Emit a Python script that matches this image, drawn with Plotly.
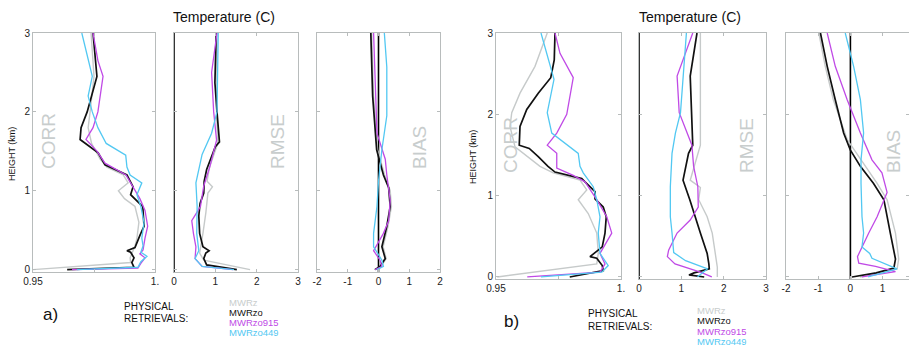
import plotly.graph_objects as go

W, H = 909, 347

# ---------------- DATA (height km, value) ----------------
SERIES = ["MWRz", "MWRzo", "MWRzo915", "MWRzo449"]

# Panel a) CORR
A_CORR_MWRZ_H = [3.0, 2.45, 2.0, 1.8, 1.6, 1.4, 1.3, 1.2, 1.1, 1.0, 0.9, 0.8, 0.6, 0.4, 0.3, 0.15, 0.09, 0.0]
A_CORR_MWRZ_V = [0.9738, 0.9750, 0.9734, 0.9726, 0.9740, 0.9775, 0.9803, 0.9870, 0.9890, 0.9850, 0.9875, 0.9918, 0.9934, 0.9926, 0.9918, 0.9898, 0.9900, 0.9500]
A_CORR_MWRZO_H = [3.0, 2.45, 2.0, 1.8, 1.65, 1.58, 1.48, 1.33, 1.2, 1.05, 0.95, 0.8, 0.55, 0.44, 0.28, 0.24, 0.22, 0.15, 0.09, 0.03, 0.0]
A_CORR_MWRZO_V = [0.9746, 0.9762, 0.9722, 0.9697, 0.9693, 0.9725, 0.9767, 0.9795, 0.9885, 0.9910, 0.9900, 0.9950, 0.9955, 0.9939, 0.9918, 0.9885, 0.9900, 0.9914, 0.9905, 0.9914, 0.9640]
A_CORR_MWRZO915_H = [3.0, 2.65, 2.45, 2.0, 1.8, 1.65, 1.5, 1.35, 1.2, 1.05, 0.9, 0.75, 0.55, 0.4, 0.25, 0.2, 0.15, 0.08, 0.02, 0.0]
A_CORR_MWRZO915_V = [0.9746, 0.9766, 0.9787, 0.9766, 0.9746, 0.9717, 0.9763, 0.9795, 0.9881, 0.9910, 0.9938, 0.9959, 0.9970, 0.9959, 0.9951, 0.9938, 0.9959, 0.9942, 0.9930, 0.9660]
A_CORR_MWRZO449_H = [3.0, 2.45, 2.2, 2.0, 1.8, 1.6, 1.45, 1.3, 1.2, 1.1, 0.95, 0.8, 0.6, 0.4, 0.3, 0.22, 0.17, 0.1, 0.03, 0.0]
A_CORR_MWRZO449_V = [0.9700, 0.9743, 0.9726, 0.9743, 0.9766, 0.9800, 0.9880, 0.9885, 0.9898, 0.9946, 0.9926, 0.9942, 0.9955, 0.9946, 0.9951, 0.9942, 0.9967, 0.9942, 0.9930, 0.9680]

# Panel a) RMSE
A_RMSE_MWRZ_H = [3.0, 2.0, 1.6, 1.3, 1.12, 1.05, 0.97, 0.72, 0.46, 0.21, 0.12, 0.0]
A_RMSE_MWRZ_V = [1.04, 1.03, 1.06, 0.86, 0.80, 0.93, 0.82, 0.77, 0.70, 0.62, 0.72, 1.84]
A_RMSE_MWRZO_H = [3.0, 2.37, 2.0, 1.62, 1.56, 1.44, 1.27, 1.12, 0.97, 0.84, 0.68, 0.46, 0.29, 0.24, 0.21, 0.14, 0.06, 0.0]
A_RMSE_MWRZO_V = [1.02, 0.99, 1.04, 1.10, 1.00, 0.91, 0.79, 0.73, 0.72, 0.63, 0.60, 0.62, 0.70, 0.85, 0.77, 0.72, 0.79, 1.52]
A_RMSE_MWRZO915_H = [3.0, 2.5, 2.0, 1.64, 1.31, 1.06, 0.8, 0.62, 0.46, 0.29, 0.14, 0.04, 0.0]
A_RMSE_MWRZO915_V = [1.04, 0.91, 0.96, 1.03, 0.87, 0.72, 0.64, 0.43, 0.47, 0.53, 0.51, 0.68, 1.43]
A_RMSE_MWRZO449_H = [3.0, 2.37, 2.0, 1.73, 1.46, 1.10, 0.8, 0.46, 0.24, 0.14, 0.04, 0.0]
A_RMSE_MWRZO449_V = [1.07, 1.04, 1.04, 0.91, 0.68, 0.53, 0.56, 0.55, 0.60, 0.51, 0.68, 1.45]

# Panel a) BIAS
A_BIAS_MWRZ_H = [3.0, 2.2, 1.52, 1.2, 1.0, 0.8, 0.55, 0.29, 0.14, 0.04, 0.0]
A_BIAS_MWRZ_V = [-0.22, -0.16, -0.03, 0.20, 0.38, 0.42, 0.31, 0.15, 0.25, 0.08, -0.10]
A_BIAS_MWRZO_H = [3.0, 2.2, 1.52, 1.2, 1.04, 0.8, 0.55, 0.29, 0.14, 0.04, 0.0]
A_BIAS_MWRZO_V = [-0.25, -0.19, -0.06, 0.16, 0.33, 0.38, 0.27, 0.11, 0.22, 0.05, -0.12]
A_BIAS_MWRZO915_H = [3.0, 2.37, 1.73, 1.4, 1.2, 0.88, 0.62, 0.46, 0.24, 0.12, 0.04, 0.0]
A_BIAS_MWRZO915_V = [-0.16, -0.11, -0.05, 0.22, 0.27, 0.38, 0.33, 0.16, -0.16, 0.05, 0.11, -0.11]
A_BIAS_MWRZO449_H = [3.0, 2.57, 1.95, 1.52, 1.12, 0.8, 0.46, 0.29, 0.12, 0.04, 0.0]
A_BIAS_MWRZO449_V = [0.19, 0.27, 0.27, 0.11, 0.00, -0.05, -0.16, -0.16, 0.11, 0.16, -0.05]

# Panel b) CORR
B_CORR_MWRZ_H = [3.0, 2.59, 2.26, 2.02, 1.85, 1.60, 1.36, 1.28, 1.19, 1.07, 0.95, 0.78, 0.54, 0.29, 0.16, 0.0]
B_CORR_MWRZ_V = [0.9705, 0.9656, 0.9596, 0.9563, 0.9556, 0.9576, 0.9676, 0.9729, 0.9836, 0.9863, 0.9829, 0.9869, 0.9903, 0.9909, 0.9903, 0.9505]
B_CORR_MWRZO_H = [3.0, 2.67, 2.45, 2.26, 2.06, 1.85, 1.62, 1.58, 1.48, 1.36, 1.29, 1.21, 1.17, 1.05, 0.96, 0.86, 0.74, 0.54, 0.37, 0.25, 0.23, 0.14, 0.08, 0.0]
B_CORR_MWRZO_V = [0.9736, 0.9733, 0.9719, 0.9669, 0.9623, 0.9596, 0.9593, 0.9633, 0.9669, 0.9708, 0.9736, 0.9843, 0.9856, 0.9896, 0.9896, 0.9929, 0.9941, 0.9936, 0.9925, 0.9876, 0.9903, 0.9925, 0.9929, 0.9795]
B_CORR_MWRZO915_H = [3.0, 2.75, 2.45, 2.0, 1.77, 1.62, 1.52, 1.34, 1.25, 1.17, 0.95, 0.74, 0.54, 0.29, 0.16, 0.06, 0.0]
B_CORR_MWRZO915_V = [0.9736, 0.9756, 0.9809, 0.9783, 0.9743, 0.9705, 0.9743, 0.9743, 0.9809, 0.9856, 0.9903, 0.9943, 0.9963, 0.9916, 0.9936, 0.9916, 0.9625]
B_CORR_MWRZO449_H = [3.0, 2.59, 2.43, 2.02, 1.77, 1.52, 1.36, 1.28, 1.11, 0.95, 0.74, 0.54, 0.29, 0.14, 0.06, 0.0]
B_CORR_MWRZO449_V = [0.9680, 0.9716, 0.9732, 0.9705, 0.9723, 0.9829, 0.9836, 0.9849, 0.9889, 0.9903, 0.9916, 0.9909, 0.9916, 0.9949, 0.9923, 0.9680]

# Panel b) RMSE
B_RMSE_MWRZ_H = [3.0, 2.47, 1.62, 1.19, 1.1, 0.95, 0.74, 0.54, 0.29, 0.12, 0.0]
B_RMSE_MWRZ_V = [1.45, 1.45, 1.45, 1.21, 1.45, 1.41, 1.61, 1.73, 1.80, 1.85, 1.85]
B_RMSE_MWRZO_H = [3.0, 2.47, 1.62, 1.52, 1.19, 0.95, 0.54, 0.29, 0.16, 0.1, 0.05, 0.025, 0.0]
B_RMSE_MWRZO_V = [1.37, 1.21, 1.27, 1.17, 1.04, 1.20, 1.45, 1.61, 1.65, 1.66, 1.30, 1.18, 1.54]
B_RMSE_MWRZO915_H = [3.0, 2.47, 2.02, 1.62, 1.36, 1.11, 0.86, 0.70, 0.54, 0.33, 0.25, 0.16, 0.06, 0.02, 0.0]
B_RMSE_MWRZO915_V = [1.27, 0.90, 0.95, 1.25, 1.29, 1.39, 1.40, 1.21, 0.90, 0.70, 0.67, 0.85, 1.45, 1.66, 1.72]
B_RMSE_MWRZO449_H = [3.0, 2.47, 2.02, 1.77, 1.52, 1.11, 0.74, 0.54, 0.30, 0.20, 0.10, 0.03, 0.0]
B_RMSE_MWRZO449_V = [1.12, 1.05, 0.98, 0.86, 0.78, 0.74, 0.74, 0.78, 0.82, 1.10, 1.62, 1.45, 1.38]

# Panel b) BIAS
B_BIAS_MWRZ_H = [3.0, 2.59, 2.18, 1.69, 1.36, 1.15, 0.95, 0.54, 0.22, 0.10, 0.0]
B_BIAS_MWRZ_V = [-0.98, -0.78, -0.53, -0.10, 0.47, 0.83, 1.14, 1.40, 1.50, 1.45, 0.30]
B_BIAS_MWRZO_H = [3.0, 2.59, 2.18, 1.77, 1.56, 1.36, 1.15, 0.95, 0.54, 0.22, 0.11, 0.05, 0.0]
B_BIAS_MWRZO_V = [-0.93, -0.72, -0.47, -0.21, 0.00, 0.31, 0.72, 1.04, 1.24, 1.40, 1.35, 0.80, 0.05]
B_BIAS_MWRZO915_H = [3.0, 2.59, 2.18, 1.77, 1.44, 1.28, 1.04, 0.74, 0.54, 0.25, 0.17, 0.13, 0.065, 0.0]
B_BIAS_MWRZO915_V = [-0.72, -0.47, -0.10, 0.31, 0.67, 0.98, 1.14, 0.83, 0.57, 0.22, 0.26, 0.78, 1.40, 0.36]
B_BIAS_MWRZO449_H = [3.0, 2.59, 2.18, 1.77, 1.44, 1.15, 0.74, 0.54, 0.37, 0.29, 0.23, 0.10, 0.0]
B_BIAS_MWRZO449_V = [-0.16, 0.10, 0.31, 0.41, 0.33, 0.33, 0.36, 0.41, 0.36, 0.60, 0.67, 1.45, 0.55]

CORR_TICKS = [0.95, 0.975, 1.0]
CORR_TICKTEXT = ["0.95", "", "1."]
RMSE_TICKS = [0, 1, 2, 3]
BIAS_TICKS = [-2, -1, 0, 1, 2]
HEIGHT_TICKS = [0, 1, 2, 3]

# ---------------- STYLE ----------------
COLORS = {"MWRz": "#c6caca", "MWRzo": "#111111", "MWRzo915": "#c04ae6", "MWRzo449": "#52c8f2"}
WIDTHS = {"MWRz": 1.4, "MWRzo": 1.7, "MWRzo915": 1.3, "MWRzo449": 1.3}
FRAME = "#b8bcbc"
LABEL_GRAY = "#c8cdcd"
FONT = "Liberation Sans, Arial, sans-serif"


def px_x(p):
    return p / W


def px_y(p):
    return 1 - p / H


panels = [
    ("a_corr", [A_CORR_MWRZ_H, A_CORR_MWRZ_V, A_CORR_MWRZO_H, A_CORR_MWRZO_V, A_CORR_MWRZO915_H, A_CORR_MWRZO915_V, A_CORR_MWRZO449_H, A_CORR_MWRZO449_V],
     (33, 155), (33, 272), [0.95, 1.0], [-0.03, 3], CORR_TICKS, CORR_TICKTEXT, True),
    ("a_rmse", [A_RMSE_MWRZ_H, A_RMSE_MWRZ_V, A_RMSE_MWRZO_H, A_RMSE_MWRZO_V, A_RMSE_MWRZO915_H, A_RMSE_MWRZO915_V, A_RMSE_MWRZO449_H, A_RMSE_MWRZO449_V],
     (174, 298), (33, 272), [0, 3], [-0.03, 3], RMSE_TICKS, [str(t) for t in RMSE_TICKS], False),
    ("a_bias", [A_BIAS_MWRZ_H, A_BIAS_MWRZ_V, A_BIAS_MWRZO_H, A_BIAS_MWRZO_V, A_BIAS_MWRZO915_H, A_BIAS_MWRZO915_V, A_BIAS_MWRZO449_H, A_BIAS_MWRZO449_V],
     (317, 440), (33, 272), [-2, 2], [-0.03, 3], BIAS_TICKS, [str(t) for t in BIAS_TICKS], False),
    ("b_corr", [B_CORR_MWRZ_H, B_CORR_MWRZ_V, B_CORR_MWRZO_H, B_CORR_MWRZO_V, B_CORR_MWRZO915_H, B_CORR_MWRZO915_V, B_CORR_MWRZO449_H, B_CORR_MWRZO449_V],
     (496, 621), (33, 279), [0.95, 1.0], [-0.025, 3], CORR_TICKS, CORR_TICKTEXT, True),
    ("b_rmse", [B_RMSE_MWRZ_H, B_RMSE_MWRZ_V, B_RMSE_MWRZO_H, B_RMSE_MWRZO_V, B_RMSE_MWRZO915_H, B_RMSE_MWRZO915_V, B_RMSE_MWRZO449_H, B_RMSE_MWRZO449_V],
     (639, 766), (33, 279), [0, 3], [-0.025, 3], RMSE_TICKS, [str(t) for t in RMSE_TICKS], False),
    ("b_bias", [B_BIAS_MWRZ_H, B_BIAS_MWRZ_V, B_BIAS_MWRZO_H, B_BIAS_MWRZO_V, B_BIAS_MWRZO915_H, B_BIAS_MWRZO915_V, B_BIAS_MWRZO449_H, B_BIAS_MWRZO449_V],
     (786, 909), (33, 279), [-2, 1.82], [-0.025, 3], BIAS_TICKS, [str(t) for t in BIAS_TICKS], False),
]

fig = go.Figure()
layout = {}
shapes = []

for i, (name, data, xd, yd, xr, yr, tv, tt, showy) in enumerate(panels):
    n = "" if i == 0 else str(i + 1)
    xa, ya = "x" + n, "y" + n
    if "rmse" in name or "bias" in name:
        shapes.append(dict(type="line", xref=xa, yref=ya + " domain", x0=0, x1=0, y0=0, y1=1,
                           line=dict(color="#000000", width=1.6), layer="below"))
    for k, s in enumerate(SERIES):
        hh, vv = data[2 * k], data[2 * k + 1]
        fig.add_trace(go.Scatter(x=vv, y=hh, mode="lines", xaxis=xa, yaxis=ya,
                                 line=dict(color=COLORS[s], width=WIDTHS[s]),
                                 showlegend=False, hoverinfo="skip"))
    common = dict(showline=True, linecolor=FRAME, linewidth=1, mirror="ticks",
                  ticks="inside", ticklen=3, tickcolor=FRAME, showgrid=False,
                  zeroline=False, automargin=False,
                  tickfont=dict(size=10, color="#222", family=FONT))
    layout["xaxis" + n] = dict(domain=[px_x(xd[0]), px_x(xd[1])], range=xr, anchor=ya,
                               tickvals=tv, ticktext=tt, **common)
    layout["yaxis" + n] = dict(domain=[px_y(yd[1]), px_y(yd[0])], range=yr, anchor=xa,
                               tickvals=HEIGHT_TICKS, showticklabels=showy, **common)

annotations = []


def ann(text, x, y, size, color="#111", angle=0, xanchor="center", height=None):
    d = dict(text=text, x=px_x(x), y=px_y(y), xref="paper", yref="paper",
             showarrow=False, xanchor=xanchor, yanchor="middle", borderpad=0,
             textangle=angle, font=dict(size=size, color=color, family=FONT))
    if height is not None:
        d["height"] = height
    annotations.append(d)


ann("Temperature (C)", 224, 17, 14)
ann("Temperature (C)", 690, 17, 14)
ann("HEIGHT (km)", 12, 154, 9, angle=-90)
ann("HEIGHT (km)", 473, 157, 9, angle=-90)
for txt, x, y in [("CORR", 48, 141), ("RMSE", 277, 142), ("BIAS", 420, 148),
                  ("CORR", 510, 145), ("RMSE", 746, 146), ("BIAS", 893, 152)]:
    ann(txt, x, y, 19, color=LABEL_GRAY, angle=-90)

ann("a)", 50, 314, 17)
ann("b)", 511, 321, 17)
ann("PHYSICAL", 123, 306, 10, xanchor="left")
ann("RETRIEVALS:", 123, 318, 10, xanchor="left")
ann("PHYSICAL", 587, 313, 10, xanchor="left")
ann("RETRIEVALS:", 587, 326, 10, xanchor="left")
for s, ya_, yb_ in zip(SERIES, [302, 312, 322, 332], [310, 320, 331, 341]):
    c = COLORS[s] if s != "MWRz" else LABEL_GRAY
    ann(s, 228, ya_, 9.5, color=c, xanchor="left", height=9)
    ann(s, 696, yb_, 9.5, color=c, xanchor="left", height=9)

fig.update_layout(width=W, height=H,
                  margin=dict(l=0, r=0, t=0, b=0, pad=0, autoexpand=False),
                  paper_bgcolor="white", plot_bgcolor="white",
                  shapes=shapes, annotations=annotations, **layout)

fig.write_html("out.html")
